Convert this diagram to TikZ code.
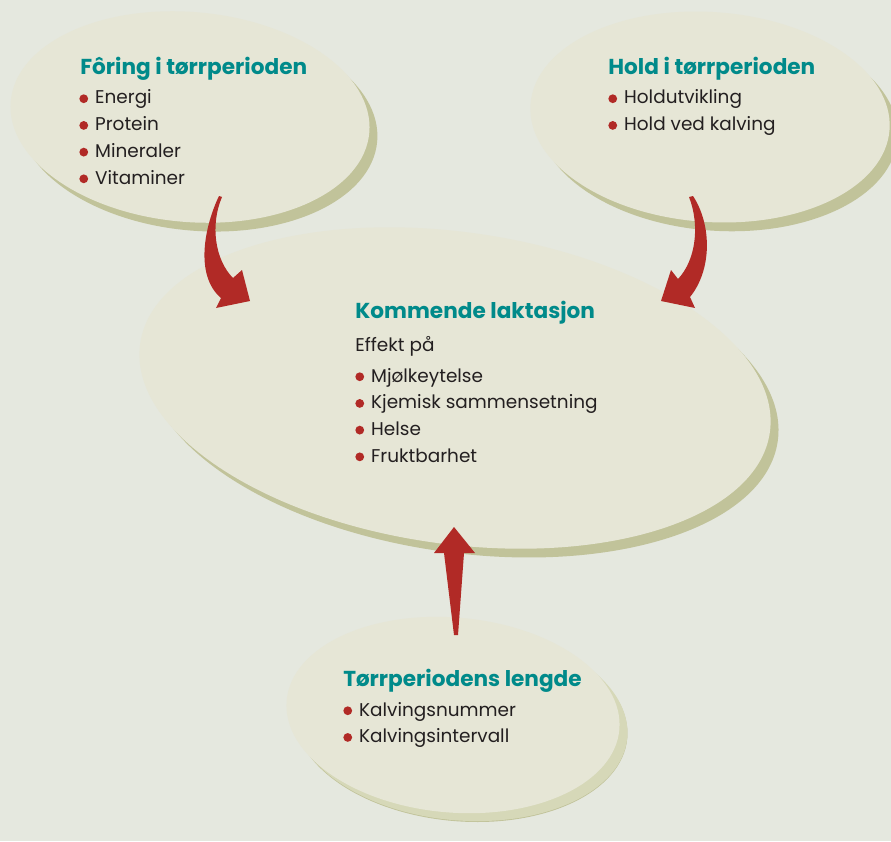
\documentclass[tikz,border=0pt]{standalone}
\usepackage{fontspec}
\setmainfont{Poppins}
\usepackage{tikz}
\usetikzlibrary{shapes.geometric, shadows, positioning}
\usepackage{xcolor}
\definecolor{bgcol}{HTML}{E5E8DF}
\definecolor{ellfill}{HTML}{E6E6D6}
\definecolor{shadowdark}{HTML}{C1C39A}
\definecolor{shadowlight}{HTML}{D6D8B8}
\definecolor{arrowred}{HTML}{B12A26}
\definecolor{headteal}{HTML}{008A8A}
\definecolor{bodytext}{HTML}{231F20}
\newcommand{\dotitem}{\raisebox{0.5pt}{\tikz\fill[arrowred] (0,0) circle (2.5pt);}\hspace{4pt}}

\begin{document}
\begin{tikzpicture}[x=0.02cm, y=-0.02cm]
        \tikzstyle{blob}=[ellipse, inner sep=0pt, fill=ellfill,
            drop shadow={shadow xshift=4.5pt, shadow yshift=-5pt, fill=shadowdark, opacity=1}]
        \tikzstyle{lightblob}=[blob,
            drop shadow={shadow xshift=4.5pt, shadow yshift=-4.5pt, fill=shadowlight, opacity=1}]
        \tikzstyle{head}=[inner sep=0pt, anchor=base west, text=headteal, font=\fontsize{12.3}{15}\selectfont\bfseries]
        \tikzstyle{item}=[inner sep=0pt, anchor=base west, text=bodytext, font=\fontsize{10.5}{13}\selectfont]
        \tikzstyle{bigarrow}=[fill=arrowred, draw=none]

        % Background and frame
        \fill[bgcol] (0,0) rectangle (891,841);
        \useasboundingbox (0,0) rectangle (891,841);

        % Ellipses
        \node[blob, minimum width=7.2cm, minimum height=4.2cm, rotate=-5] (foring) at (190,117) {};
        \node[blob, minimum width=7.2cm, minimum height=4.2cm, rotate=-4] (hold) at (710,117) {};
        \node[blob, minimum width=12.72cm, minimum height=6.24cm, rotate=-8] (laktasjon) at (455,388) {};
        \node[lightblob, minimum width=6.68cm, minimum height=3.9cm, rotate=-5] (lengde) at (453,715) {};

        % Texts of the feeding ellipse
        \node[head] (foringhead) at (80,75) {Fôring i tørrperioden};
        \foreach \txt [count=\i] in {Energi, Protein, Mineraler, Vitaminer}
            \node[item] (foring\i) at (79,{77.3+26.7*\i}) {\dotitem\txt};

        % Texts of the condition ellipse
        \node[head] (holdhead) at (608,75) {Hold i tørrperioden};
        \foreach \txt [count=\i] in {Holdutvikling, Hold ved kalving}
            \node[item] (hold\i) at (608,{77.3+26.7*\i}) {\dotitem\txt};

        % Texts of the lactation ellipse
        \node[head] (lakthead) at (355,318) {Kommende laktasjon};
        \node[item] (effekt) at (355,351) {Effekt på};
        \foreach \txt [count=\i] in {Mjølkeytelse, Kjemisk sammensetning, Helse, Fruktbarhet}
            \node[item] (lakt\i) at (355,{355.3+26.7*\i}) {\dotitem\txt};

        % Texts of the dry period ellipse
        \node[head] (lengdehead) at (343,686) {Tørrperiodens lengde};
        \foreach \txt [count=\i] in {Kalvingsnummer, Kalvingsintervall}
            \node[item] (lengde\i) at (343,{689.3+26.7*\i}) {\dotitem\txt};

        % Curved arrows into the lactation ellipse
        \fill[bigarrow] (219,196) .. controls (205,225) and (194,275) .. (221,298)
            -- (216,308) -- (250,301) -- (242,270) -- (233,278)
            .. controls (215,260) and (210,225) .. (222,197) -- cycle;
        \fill[bigarrow] (693,196) .. controls (712,225) and (712,270) .. (690,297)
            -- (695,308) -- (661,301) -- (671,270) -- (678,279)
            .. controls (696,260) and (700,225) .. (689,197) -- cycle;

        % Straight arrow from the bottom ellipse
        \fill[bigarrow] (454,527) -- (475,553) -- (464,553) -- (458,635)
            -- (454,635) -- (444,553) -- (434,553) -- cycle;
    \end{tikzpicture}
\end{document}
